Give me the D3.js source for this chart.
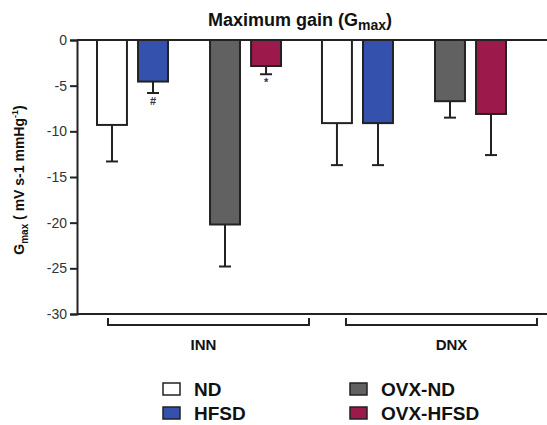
<!DOCTYPE html>
<html>
<head>
<meta charset="utf-8">
<script src="https://cdn.jsdelivr.net/npm/d3@7"></script>
<style>
  body { margin: 0; background: #fff; }
  text { font-family: "Liberation Sans", Arial, sans-serif; }
</style>
</head>
<body>
<div id="chart"></div>
<script>
// data
var groups = ['INN', 'DNX'];
var series = ['ND', 'HFSD', 'OVX-ND', 'OVX-HFSD'];
var seriesPair = ['ND', 'ND', 'OVX', 'OVX'];
var seriesDiet = ['ND', 'HFSD', 'ND', 'HFSD'];
var colors = ['#ffffff', '#3451ad', '#616161', '#9c1a4b'];
var meanINN = [-9.3, -4.55, -20.2, -2.85];
var errINN = [4.0, 1.25, 4.6, 0.9];
var meanDNX = [-9.1, -9.1, -6.7, -8.1];
var errDNX = [4.6, 4.6, 1.8, 4.5];
var marksINN = ['', '#', '', '*'];
var yTicks = [0, -5, -10, -15, -20, -25, -30];

var width = 547, height = 425;
var margin = {top: 40, left: 77, bottom: 111};

var svg = d3.select('#chart').append('svg')
  .attr('width', width)
  .attr('height', height);

var y = d3.scaleLinear().domain([0, -30]).range([margin.top, height - margin.bottom]);
var x0 = d3.scaleBand().domain(groups).range([97, 506]).paddingInner(0.182).paddingOuter(0);
var xPair = d3.scaleBand().domain(['ND', 'OVX']).range([0, x0.bandwidth()]).paddingInner(0.372);
var xDiet = d3.scaleBand().domain(['ND', 'HFSD']).range([0, xPair.bandwidth()]).paddingInner(0.27);

var rows = [];
groups.forEach(function(g) {
  var m = g === 'INN' ? meanINN : meanDNX;
  var e = g === 'INN' ? errINN : errDNX;
  series.forEach(function(s, i) {
    rows.push({group: g, name: s, value: m[i], err: e[i], color: colors[i],
      mark: g === 'INN' ? marksINN[i] : '',
      x: x0(g) + xPair(seriesPair[i]) + xDiet(seriesDiet[i])});
  });
});

var bw = xDiet.bandwidth();
var axisColor = '#222';

// error bars (drawn first, bar covers the top)
var eb = svg.append('g');
eb.selectAll('line.stem').data(rows).enter().append('line')
  .attr('x1', d => d.x + bw / 2).attr('x2', d => d.x + bw / 2)
  .attr('y1', d => y(d.value)).attr('y2', d => y(d.value - d.err))
  .attr('stroke', axisColor).attr('stroke-width', 2);
eb.selectAll('line.cap').data(rows).enter().append('line')
  .attr('x1', d => d.x + bw / 2 - 6).attr('x2', d => d.x + bw / 2 + 6)
  .attr('y1', d => y(d.value - d.err)).attr('y2', d => y(d.value - d.err))
  .attr('stroke', axisColor).attr('stroke-width', 2);

// bars
svg.append('g').selectAll('rect').data(rows).enter().append('rect')
  .attr('x', d => d.x)
  .attr('y', y(0))
  .attr('width', bw)
  .attr('height', d => y(d.value) - y(0))
  .attr('fill', d => d.color)
  .attr('stroke', axisColor)
  .attr('stroke-width', 2);

// significance marks
svg.append('g').selectAll('text').data(rows.filter(d => d.mark)).enter().append('text')
  .attr('x', d => d.x + bw / 2)
  .attr('y', d => y(d.value - d.err) + 12)
  .attr('text-anchor', 'middle')
  .style('font-size', '11px')
  .style('font-weight', 'bold')
  .attr('fill', '#333')
  .text(d => d.mark);

// y axis
var yAxis = svg.append('g')
  .attr('transform', 'translate(' + margin.left + ',0)')
  .call(d3.axisLeft(y).tickValues(yTicks).tickSize(7).tickPadding(3)
    .tickFormat(d => String(d)));
yAxis.select('.domain').attr('stroke', axisColor).attr('stroke-width', 2);
yAxis.selectAll('.tick line').attr('stroke', axisColor).attr('stroke-width', 2);
yAxis.selectAll('.tick text')
  .style('font-size', '14px')
  .style('font-family', '"Liberation Sans", Arial, sans-serif')
  .attr('fill', '#333');

// top zero line and bottom line
[0, -30].forEach(function(v) {
  svg.append('line')
    .attr('x1', margin.left).attr('x2', width)
    .attr('y1', y(v)).attr('y2', y(v))
    .attr('stroke', axisColor).attr('stroke-width', 2);
});

// group brackets
var brStart = {INN: 11, DNX: 24};
var brEnd = {INN: 212, DNX: 215};
var labShift = {INN: -5, DNX: 10};
var br = svg.append('g');
groups.forEach(function(g) {
  var bx1 = x0(g) + brStart[g], bx2 = x0(g) + brEnd[g];
  var by = y(-30) + 11;
  br.append('path')
    .attr('d', 'M' + bx1 + ',' + (by - 7) + 'V' + by + 'H' + bx2 + 'V' + (by - 7))
    .attr('fill', 'none').attr('stroke', axisColor).attr('stroke-width', 2);
  br.append('text')
    .attr('x', (bx1 + bx2) / 2 + labShift[g])
    .attr('y', by + 25)
    .attr('text-anchor', 'middle')
    .style('font-size', '15px')
    .style('font-weight', 'bold')
    .attr('fill', '#111')
    .text(g);
});

// title
var title = svg.append('text')
  .attr('x', 300).attr('y', 26)
  .attr('text-anchor', 'middle')
  .style('font-size', '18px')
  .style('font-weight', 'bold')
  .attr('fill', '#111');
title.append('tspan').text('Maximum gain (G');
title.append('tspan').attr('dy', 4).style('font-size', '14px').text('max');
title.append('tspan').attr('dy', -4).text(')');

// y label
var ylab = svg.append('text')
  .attr('transform', 'translate(24,180) rotate(-90)')
  .attr('text-anchor', 'middle')
  .style('font-size', '14px')
  .style('font-weight', 'bold')
  .attr('fill', '#111');
ylab.append('tspan').text('G');
ylab.append('tspan').attr('dy', 4).style('font-size', '10px').text('max');
ylab.append('tspan').attr('dy', -4).text(' ( mV s-1 mmHg');
ylab.append('tspan').attr('dy', -6).style('font-size', '9px').text('-1');
ylab.append('tspan').attr('dy', 6).text(')');

// legend
var lg = svg.append('g');
series.forEach(function(s, i) {
  var lx = i < 2 ? 163 : 350;
  var ly = i % 2 === 0 ? 383 : 407;
  lg.append('rect')
    .attr('x', lx).attr('y', ly)
    .attr('width', 17).attr('height', 12)
    .attr('fill', colors[i])
    .attr('stroke', axisColor).attr('stroke-width', 1.5);
  lg.append('text')
    .attr('x', lx + 31).attr('y', ly + 13)
    .style('font-size', '19px')
    .style('font-weight', 'bold')
    .attr('fill', '#111')
    .text(s);
});
</script>
</body>
</html>
